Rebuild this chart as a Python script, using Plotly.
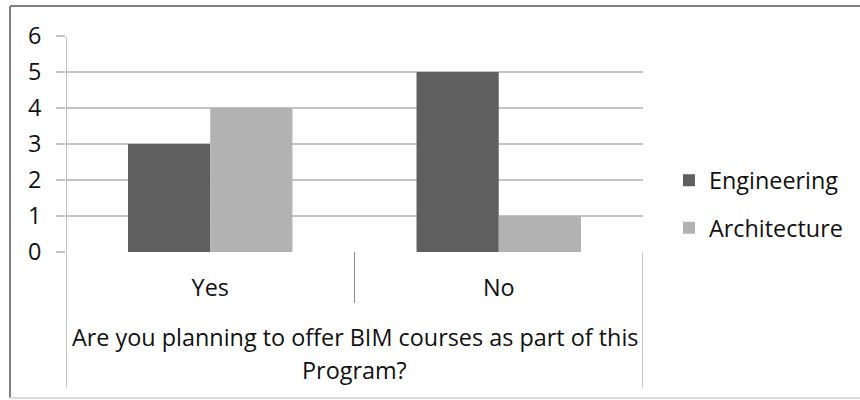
import plotly.graph_objects as go

# Survey answers per discipline
categories = ["Yes", "No"]
engineering = [3, 5]
architecture = [4, 1]
question_lines = ["Are you planning to offer BIM courses as part of this", "Program?"]
y_ticks = [0, 1, 2, 3, 4, 5, 6]

FONT = "Open Sans, sans-serif"
FS = 23.4
TXT = "#111111"
DARK = "#5f5f5f"
LIGHT = "#b2b2b2"
GRID = "#c4c4c4"
AXIS = "#8c8c8c"

fig = go.Figure()
fig.add_trace(go.Bar(x=categories, y=engineering, name="Engineering",
                     marker=dict(color=DARK, line=dict(width=0)),
                     legendgroup="eng"))
fig.add_trace(go.Bar(x=categories, y=architecture, name="Architecture",
                     marker=dict(color=LIGHT, line=dict(width=0)),
                     legendgroup="arch"))

# Frame lines of the category axis (left/right edges and divider)
shapes = [
    dict(type="line", xref="x", yref="paper", x0=-0.5, x1=-0.5, y0=1, y1=-0.63,
         line=dict(color=AXIS, width=1)),
    dict(type="line", xref="x", yref="paper", x0=1.5, x1=1.5, y0=0, y1=-0.63,
         line=dict(color=AXIS, width=1)),
    dict(type="line", xref="x", yref="paper", x0=0.5, x1=0.5, y0=0, y1=-0.236,
         line=dict(color=AXIS, width=1)),
    # outer chart border
    dict(type="line", xref="paper", yref="paper", x0=-0.097, x1=1.4, y0=1.139, y1=1.139,
         line=dict(color="#7f7f7f", width=2)),
    dict(type="line", xref="paper", yref="paper", x0=-0.097, x1=-0.097, y0=1.139, y1=-0.676,
         line=dict(color="#7f7f7f", width=2)),
    dict(type="line", xref="paper", yref="paper", x0=-0.097, x1=1.4, y0=-0.676, y1=-0.676,
         line=dict(color="#dddddd", width=2)),
]

annotations = [
    dict(text=question_lines[0], xref="paper", yref="paper", x=0.5, y=-0.395,
         xanchor="center", yanchor="middle", showarrow=False,
         font=dict(family=FONT, size=FS, color=TXT)),
    dict(text=question_lines[1], xref="paper", yref="paper", x=0.5, y=-0.548,
         xanchor="center", yanchor="middle", showarrow=False,
         font=dict(family=FONT, size=FS, color=TXT)),
]

fig.update_layout(
    width=860, height=400,
    margin=dict(l=66, r=217, t=36, b=148),
    paper_bgcolor="white", plot_bgcolor="white",
    barmode="group", bargap=0.43, bargroupgap=0,
    font=dict(family=FONT, size=FS, color=TXT),
    showlegend=True,
    legend=dict(x=1.045, y=0.222, xanchor="left", yanchor="middle",
                font=dict(family=FONT, size=FS, color=TXT),
                tracegroupgap=14, traceorder="grouped",
                bgcolor="rgba(0,0,0,0)"),
    shapes=shapes,
    annotations=annotations,
)

fig.update_xaxes(type="category", range=[-0.5, 1.5], showgrid=False,
                 showline=False, zeroline=False, ticks="",
                 ticklabelstandoff=20,
                 tickfont=dict(family=FONT, size=FS, color=TXT))
fig.update_yaxes(range=[0, 6], tickvals=y_ticks, showgrid=True,
                 gridcolor=GRID, gridwidth=2, zeroline=False,
                 showline=False, ticks="outside", ticklen=9,
                 tickcolor=GRID, tickwidth=2, ticklabelstandoff=10,
                 tickfont=dict(family=FONT, size=FS, color=TXT))

fig.write_html("out.html")
